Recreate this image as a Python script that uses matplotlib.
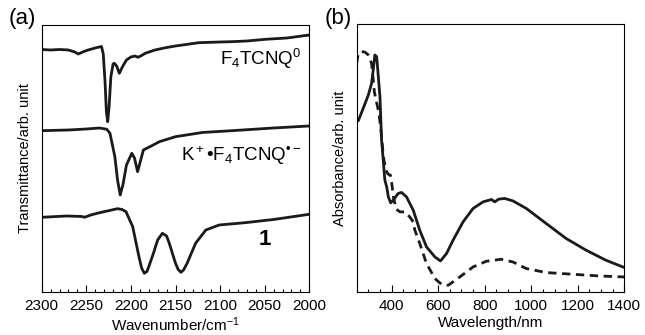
import matplotlib
matplotlib.use('Agg')
import matplotlib.pyplot as plt
from matplotlib.ticker import MultipleLocator

plt.rcParams['font.family'] = ['Liberation Sans', 'DejaVu Sans']
plt.rcParams['mathtext.fontset'] = 'custom'
plt.rcParams['mathtext.rm'] = 'Liberation Sans'
plt.rcParams['mathtext.it'] = 'Liberation Sans:italic'
plt.rcParams['mathtext.bf'] = 'Liberation Sans:bold'

# (a) IR spectra, transmittance in arbitrary units
wn_f4 = [2300, 2290, 2280, 2270, 2263, 2259, 2254, 2248, 2240, 2233, 2231, 2229,
         2227.5, 2226, 2224.5, 2222.5, 2220, 2218.5, 2216, 2213, 2209, 2205,
         2200, 2195.5, 2192, 2188, 2184, 2173, 2160, 2150, 2124, 2100, 2087,
         2070, 2049, 2025, 2000]
t_f4 = [242.5, 242, 242.5, 242, 240, 238, 240, 242, 244, 245.5, 238, 210,
        180, 170.3, 185, 215, 228, 228.7, 226, 218.7, 226, 232,
        235, 236, 234.7, 236.5, 238.7, 242, 244.5, 246, 249.3, 250, 250.3,
        251, 252.7, 254, 257]

wn_k = [2300, 2270, 2250, 2235, 2227, 2223.5, 2218, 2215, 2212, 2209, 2205,
        2199, 2196, 2192.5, 2189, 2186, 2175, 2168, 2150, 2120, 2087, 2040, 2000]
t_k = [161.3, 162, 163, 164, 162.7, 158.7, 135.3, 112, 97, 107, 127,
       138.7, 134, 120.3, 132, 142, 147, 150.3, 155.3, 159.5, 161.3, 164, 166]

wn_1 = [2300, 2272, 2255, 2252, 2245, 2235, 2215, 2210, 2205.5, 2198, 2191,
        2188, 2185, 2182, 2180, 2175, 2170, 2164.7, 2160, 2157, 2150, 2147,
        2144, 2141, 2137, 2127.5, 2116, 2101, 2072, 2040, 2000]
t_1 = [74.7, 76, 75.5, 74.7, 77, 79.3, 83.3, 82.5, 80.3, 65.3, 35.3,
       24, 18.7, 20.5, 25.3, 38, 52, 58.7, 56, 48.7, 28.7, 22.5,
       19.7, 22, 28.7, 48.7, 62, 67, 69.3, 72.5, 77.7]

# (b) UV-vis-NIR spectra, absorbance in arbitrary units
wl_solid = [250, 257, 278, 300, 314, 321, 328, 336, 350, 357, 364, 371, 379,
            386, 396, 407, 428, 443, 464, 493, 521, 550, 586, 610, 636, 664,
            707, 750, 793, 829, 843, 860, 886, 921, 979, 1064, 1150, 1236,
            1321, 1400]
a_solid = [173.7, 171.3, 183.7, 197, 208.7, 222, 237, 235.3, 195.3, 152, 132,
           112, 105.3, 95.3, 89.3, 92, 98.7, 99.7, 95.3, 82, 62, 45.3, 35.3,
           31.3, 38.7, 52, 70.3, 83.7, 90.3, 92.7, 90.3, 93, 93.7, 91.3, 83.7,
           68.7, 53.7, 42, 32, 24.7]

wl_dash = [250, 257, 271, 285, 300, 314, 320, 326, 335, 345, 355, 365, 375,
           385, 395, 400, 408, 420, 436, 457, 478, 493, 500, 521, 550, 586,
           614, 643, 693, 750, 807, 871, 921, 979, 1064, 1179, 1293, 1400]
a_dash = [228.7, 238.7, 240.3, 240, 237, 228.7, 215, 200, 190, 180, 160, 135,
          122, 118, 117, 110, 95, 83, 80.3, 80.3, 75.3, 70.3, 62, 48.7, 28.7,
          13.7, 8, 7, 15.3, 25.3, 31, 33, 30.3, 23.7, 19.7, 18, 16.3, 15.3]

fig = plt.figure(figsize=(6.45, 3.35), dpi=100)
ax1 = fig.add_axes([0.0647, 0.1284, 0.4148, 0.797])
ax2 = fig.add_axes([0.553, 0.1275, 0.415, 0.801])

lw = 2.0
ax1.plot(wn_f4, t_f4, color='#1a1a1a', lw=lw, solid_joinstyle='round')
ax1.plot(wn_k, t_k, color='#1a1a1a', lw=lw, solid_joinstyle='round')
ax1.plot(wn_1, t_1, color='#1a1a1a', lw=lw, solid_joinstyle='round')
ax1.set_xlim(2300, 2000)
ax1.set_ylim(0, 267)
ax1.xaxis.set_major_locator(MultipleLocator(50))
ax1.xaxis.set_minor_locator(MultipleLocator(10))
ax1.set_xlabel('Wavenumber/cm$^{-1}$', fontsize=11, labelpad=2)
ax1.set_ylabel('Transmittance/arb. unit', fontsize=10.5, labelpad=7)
ax1.text(2008.5, 233, 'F$_4$TCNQ$^0$', fontsize=13.5, ha='right', va='center')
ax1.text(2008.5, 136, 'K$^+$•F$_4$TCNQ$^{•−}$', fontsize=13.5, ha='right', va='center')
ax1.text(2050, 52, '1', fontsize=16, fontweight='bold', ha='center', va='center')
fig.text(0.014, 0.975, '(a)', fontsize=16, va='top')

ax2.plot(wl_solid, a_solid, color='#1a1a1a', lw=lw, solid_joinstyle='round')
ax2.plot(wl_dash, a_dash, color='#1a1a1a', lw=lw, linestyle=(0, (3, 2)))
ax2.set_xlim(250, 1400)
ax2.set_ylim(0, 268)
ax2.xaxis.set_minor_locator(MultipleLocator(50))
ax2.set_xticks([400, 600, 800, 1000, 1200, 1400])
ax2.set_xlabel('Wavelength/nm', fontsize=11, labelpad=2)
ax2.set_ylabel('Absorbance/arb. unit', fontsize=10.5, labelpad=7)
fig.text(0.503, 0.975, '(b)', fontsize=16, va='top')

for ax in (ax1, ax2):
    ax.set_yticks([])
    ax.tick_params(axis='x', which='major', direction='in', length=5, width=0.8,
                   labelsize=11, pad=5, top=False)
    ax.tick_params(axis='x', which='minor', direction='in', length=2.5, width=0.8,
                   top=False)
    for s in ax.spines.values():
        s.set_linewidth(0.8)

fig.savefig('out.png', dpi=100)
